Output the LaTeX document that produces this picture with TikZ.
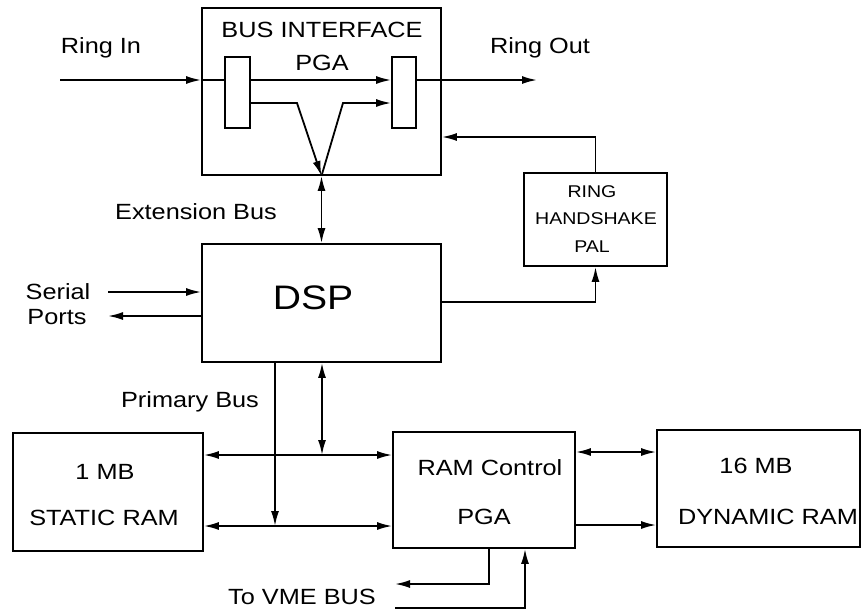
\documentclass[tikz,border=0pt]{standalone}
\usepackage{fontspec}
\setmainfont{Liberation Sans}[FakeStretch=1.15]
\usetikzlibrary{arrows.meta}
\tikzset{
  box/.style={draw, line width=1.8pt, inner sep=0pt, fill=none},
  arr/.style={line width=1.8pt, -{Latex[length=15pt,width=8pt]}},
  arrb/.style={line width=1.8pt, {Latex[length=15pt,width=8pt]}-{Latex[length=15pt,width=8pt]}},
  ln/.style={line width=1.8pt},
  lbl/.style={inner sep=0pt, font=\fontsize{22}{26}\selectfont},
  small/.style={inner sep=0pt, font=\fontsize{17}{20}\selectfont},
}
\begin{document}
\begin{tikzpicture}[x=1pt,y=-1pt]
\useasboundingbox (0,0) rectangle (862,611);
% boxes
\node[box, minimum width=239pt, minimum height=167pt] (bi) at (321.5,91.5) {};
\node[box, minimum width=25pt, minimum height=71pt] (l1) at (237.5,92.5) {};
\node[box, minimum width=24pt, minimum height=71pt] (r1) at (404,92.5) {};
\node[box, minimum width=143pt, minimum height=93pt] (pal) at (595.5,219.5) {};
\node[box, minimum width=239pt, minimum height=118pt] (dsp) at (321.5,303) {};
\node[box, minimum width=190pt, minimum height=118pt] (sram) at (108,492) {};
\node[box, minimum width=182pt, minimum height=116pt] (rc) at (484,490) {};
\node[box, minimum width=203pt, minimum height=117pt] (dram) at (758.5,488.5) {};
% labels
\node[lbl] (tri) at (101,48) {Ring In};
\node[lbl] (tro) at (540,48) {Ring Out};
\node[lbl] (tbi) at (322,30) {BUS INTERFACE};
\node[lbl] (tbp) at (322,63) {PGA};
\node[lbl] (text) at (196,212) {Extension Bus};
\node[inner sep=0pt, font=\fontsize{34}{38}\selectfont] (tdsp) at (313,298) {DSP};
\node[lbl] (tser) at (58,292) {Serial};
\node[lbl] (tpor) at (57,317) {Ports};
\node[small] (tp1) at (592,192) {RING};
\node[small] (tp2) at (596,219) {HANDSHAKE};
\node[small] (tp3) at (592,247) {PAL};
\node[lbl] (tpb) at (190,402) {Primary Bus};
\node[lbl] (ts1) at (105,472) {1 MB};
\node[lbl] (ts2) at (104,518) {STATIC RAM};
\node[lbl] (tr1) at (490,468) {RAM Control};
\node[lbl] (tr2) at (484,517) {PGA};
\node[lbl] (td1) at (756,466) {16 MB};
\node[lbl] (td2) at (768,517) {DYNAMIC RAM};
\node[lbl] (tvme) at (302,597) {To VME BUS};
% coordinates
\coordinate (ri) at (60,80);
\coordinate (ro) at (537,80);
\coordinate (va) at (297,103);
\coordinate (vc) at (343,103);
\coordinate (si) at (108,292);
\coordinate (so) at (108,316);
\coordinate (vo) at (395,584);
\coordinate (vi) at (395,608);
% ring path
\draw[arr] (ri) -- (ri -| bi.west);
\draw[ln] (ri -| bi.west) -- (ri -| l1.west);
\draw[arr] (ri -| l1.east) -- (ri -| r1.west);
\draw[arr] (ri -| r1.east) -- (ro);
% V paths
\draw[arr] (va -| l1.east) -- (va) -- (bi.south);
\draw[arr] (bi.south) -- (vc) -- (vc -| r1.west);
% extension bus
\draw[arrb] (bi.south) -- (dsp.north);
% PAL
\draw[arr] (pal.north) |- (bi.east |- 0,137);
\draw[arr] (dsp.east |- 0,302) -| (pal.south);
% serial
\draw[arr] (si) -- (si -| dsp.west);
\draw[arr] (so -| dsp.west) -- (so);
% primary bus
\draw[arr] (dsp.south -| 275,0) -- (275,526);
\draw[arrb] (dsp.south -| 322,0) -- (322,455);
\draw[arrb] (sram.east |- 0,455) -- (rc.west |- 0,455);
\draw[arrb] (sram.east |- 0,526) -- (rc.west |- 0,526);
% RAM control to DRAM
\draw[arrb] (rc.east |- 0,452) -- (dram.west |- 0,452);
\draw[arr] (rc.east |- 0,525) -- (dram.west |- 0,525);
% VME
\draw[arr] (rc.south -| 489,0) |- (vo);
\draw[arr] (vi) -| (rc.south -| 525,0);
\end{tikzpicture}
\end{document}
